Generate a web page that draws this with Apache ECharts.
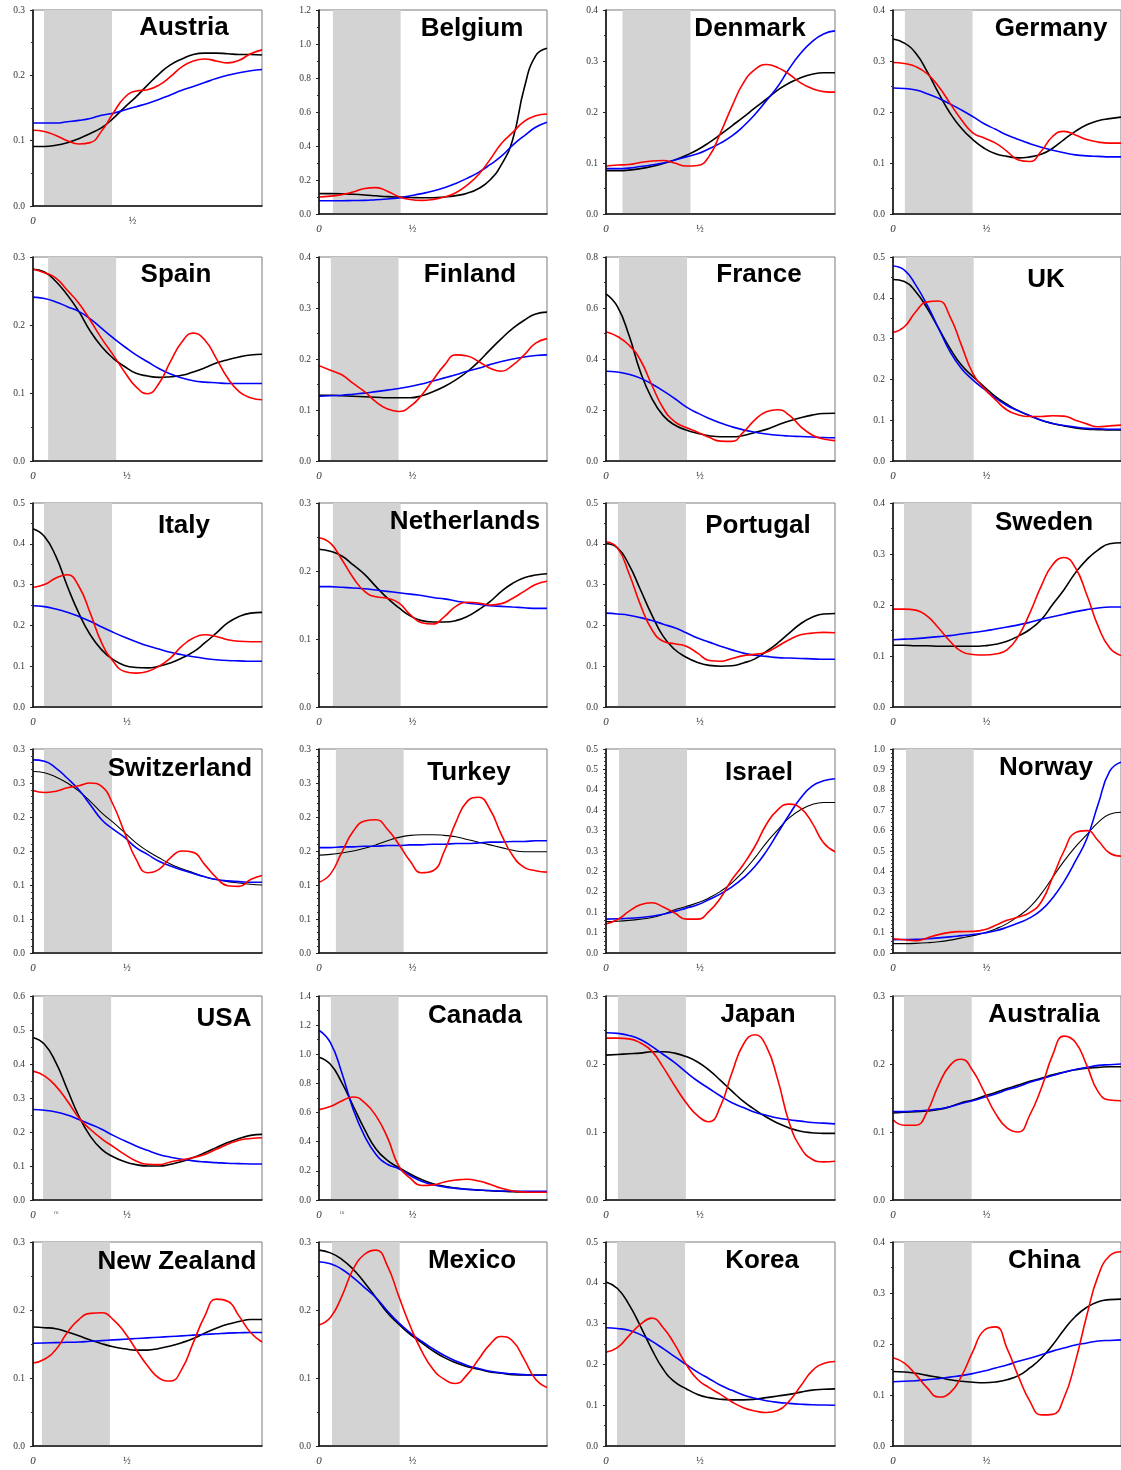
<!DOCTYPE html>
<html>
<head>
<meta charset="utf-8">
<title>Spectral densities by country</title>
<script src="https://cdn.jsdelivr.net/npm/echarts@6/dist/echarts.min.js"></script>
<style>
  html, body { margin: 0; padding: 0; background: #ffffff; }
  #chart { width: 1121px; height: 1470px; }
</style>
</head>
<body>
<div id="chart"></div>
<script>
// Sample frequencies shared by every curve (fraction of the plotted range)
const freq = [0, 0.05, 0.1, 0.15, 0.2, 0.25, 0.3, 0.35, 0.4, 0.45, 0.5, 0.55, 0.6, 0.65, 0.7, 0.75, 0.8, 0.85, 0.9, 0.95, 1];

const countries = ['Austria', 'Belgium', 'Denmark', 'Germany', 'Spain', 'Finland', 'France', 'UK',
  'Italy', 'Netherlands', 'Portugal', 'Sweden', 'Switzerland', 'Turkey', 'Israel', 'Norway',
  'USA', 'Canada', 'Japan', 'Australia', 'New Zealand', 'Mexico', 'Korea', 'China'];

// Y axis ranges and tick steps
const yMax  = [0.3, 1.2, 0.4, 0.4, 0.3, 0.4, 0.8, 0.5, 0.5, 0.3, 0.5, 0.4, 0.3, 0.3, 0.5, 1.0, 0.6, 1.4, 0.3, 0.3, 0.3, 0.3, 0.5, 0.4];
const yStep = [0.1, 0.2, 0.1, 0.1, 0.1, 0.1, 0.2, 0.1, 0.1, 0.1, 0.1, 0.1, 0.05, 0.05, 0.05, 0.1, 0.1, 0.2, 0.1, 0.1, 0.1, 0.1, 0.1, 0.1];

// Shaded frequency band (start of band, band width)
const bandStart = [0.048, 0.061, 0.072, 0.052, 0.066, 0.052, 0.057, 0.057, 0.048, 0.061, 0.052, 0.048,
  0.048, 0.074, 0.057, 0.057, 0.044, 0.052, 0.052, 0.048, 0.039, 0.057, 0.048, 0.048];
const bandWidth = 0.297;

// Austria
const austriaRed   = [0.116, 0.114, 0.108, 0.100, 0.095, 0.097, 0.115, 0.142, 0.166, 0.176, 0.178, 0.185, 0.198, 0.213, 0.222, 0.225, 0.222, 0.219, 0.223, 0.233, 0.239];
const austriaBlue  = [0.127, 0.127, 0.127, 0.129, 0.131, 0.134, 0.139, 0.142, 0.147, 0.152, 0.157, 0.163, 0.170, 0.177, 0.183, 0.189, 0.195, 0.200, 0.204, 0.207, 0.209];
const austriaBlack = [0.091, 0.091, 0.093, 0.097, 0.103, 0.111, 0.120, 0.134, 0.151, 0.167, 0.185, 0.202, 0.216, 0.225, 0.232, 0.234, 0.234, 0.233, 0.232, 0.232, 0.231];
// Belgium
const belgiumRed   = [0.100, 0.105, 0.114, 0.130, 0.150, 0.155, 0.134, 0.102, 0.085, 0.080, 0.086, 0.100, 0.125, 0.170, 0.232, 0.320, 0.415, 0.480, 0.545, 0.578, 0.588];
const belgiumBlue  = [0.078, 0.078, 0.078, 0.079, 0.080, 0.084, 0.088, 0.095, 0.107, 0.120, 0.135, 0.155, 0.180, 0.210, 0.245, 0.290, 0.340, 0.405, 0.460, 0.510, 0.540];
const belgiumBlack = [0.120, 0.120, 0.119, 0.116, 0.112, 0.107, 0.102, 0.099, 0.097, 0.096, 0.096, 0.100, 0.108, 0.122, 0.150, 0.200, 0.290, 0.440, 0.740, 0.930, 0.975];
// Denmark
const denmarkRed   = [0.094, 0.096, 0.097, 0.101, 0.104, 0.105, 0.100, 0.094, 0.095, 0.113, 0.159, 0.211, 0.257, 0.283, 0.293, 0.287, 0.274, 0.257, 0.246, 0.240, 0.239];
const denmarkBlue  = [0.089, 0.089, 0.090, 0.093, 0.096, 0.100, 0.106, 0.112, 0.118, 0.128, 0.139, 0.153, 0.172, 0.195, 0.222, 0.250, 0.285, 0.315, 0.338, 0.353, 0.359];
const denmarkBlack = [0.085, 0.085, 0.086, 0.089, 0.093, 0.099, 0.106, 0.115, 0.126, 0.140, 0.156, 0.173, 0.190, 0.208, 0.225, 0.243, 0.257, 0.267, 0.274, 0.277, 0.277];
// Germany
const germanyRed   = [0.297, 0.295, 0.289, 0.275, 0.250, 0.217, 0.185, 0.159, 0.149, 0.139, 0.123, 0.106, 0.103, 0.123, 0.152, 0.162, 0.155, 0.146, 0.141, 0.139, 0.139];
const germanyBlue  = [0.247, 0.246, 0.243, 0.236, 0.227, 0.216, 0.204, 0.191, 0.177, 0.166, 0.155, 0.146, 0.138, 0.131, 0.125, 0.120, 0.116, 0.114, 0.113, 0.112, 0.112];
const germanyBlack = [0.343, 0.335, 0.315, 0.279, 0.237, 0.198, 0.168, 0.146, 0.129, 0.118, 0.113, 0.110, 0.112, 0.117, 0.129, 0.146, 0.162, 0.175, 0.183, 0.187, 0.190];
// Spain
const spainRed   = [0.282, 0.277, 0.269, 0.251, 0.232, 0.207, 0.180, 0.156, 0.131, 0.109, 0.099, 0.114, 0.146, 0.175, 0.188, 0.178, 0.151, 0.122, 0.102, 0.093, 0.090];
const spainBlue  = [0.241, 0.239, 0.234, 0.227, 0.220, 0.209, 0.195, 0.181, 0.168, 0.156, 0.146, 0.136, 0.128, 0.122, 0.118, 0.116, 0.115, 0.114, 0.114, 0.114, 0.114];
const spainBlack = [0.282, 0.278, 0.264, 0.244, 0.220, 0.191, 0.168, 0.151, 0.139, 0.129, 0.125, 0.123, 0.124, 0.126, 0.131, 0.137, 0.144, 0.149, 0.153, 0.156, 0.157];
// Finland
const finlandRed   = [0.187, 0.178, 0.169, 0.152, 0.136, 0.116, 0.102, 0.097, 0.107, 0.129, 0.159, 0.188, 0.208, 0.206, 0.195, 0.182, 0.176, 0.188, 0.208, 0.231, 0.240];
const finlandBlue  = [0.127, 0.128, 0.129, 0.131, 0.133, 0.136, 0.139, 0.142, 0.146, 0.151, 0.157, 0.163, 0.169, 0.176, 0.182, 0.189, 0.195, 0.200, 0.204, 0.207, 0.208];
const finlandBlack = [0.129, 0.129, 0.128, 0.127, 0.126, 0.125, 0.124, 0.124, 0.124, 0.128, 0.136, 0.146, 0.159, 0.175, 0.195, 0.218, 0.240, 0.260, 0.276, 0.288, 0.292];
// France
const franceRed   = [0.507, 0.488, 0.455, 0.396, 0.298, 0.207, 0.154, 0.131, 0.113, 0.093, 0.078, 0.077, 0.113, 0.161, 0.193, 0.201, 0.180, 0.135, 0.102, 0.086, 0.080];
const franceBlue  = [0.352, 0.349, 0.340, 0.325, 0.302, 0.275, 0.245, 0.212, 0.188, 0.167, 0.149, 0.134, 0.122, 0.113, 0.106, 0.101, 0.098, 0.096, 0.094, 0.092, 0.091];
const franceBlack = [0.655, 0.605, 0.494, 0.350, 0.246, 0.178, 0.141, 0.122, 0.109, 0.099, 0.095, 0.095, 0.100, 0.112, 0.124, 0.141, 0.157, 0.170, 0.180, 0.186, 0.187];
// UK
const ukRed   = [0.315, 0.329, 0.366, 0.390, 0.392, 0.354, 0.284, 0.215, 0.178, 0.150, 0.125, 0.113, 0.109, 0.109, 0.111, 0.110, 0.100, 0.091, 0.084, 0.086, 0.088];
const ukBlue  = [0.478, 0.468, 0.431, 0.382, 0.325, 0.268, 0.227, 0.199, 0.176, 0.154, 0.136, 0.123, 0.111, 0.100, 0.092, 0.087, 0.083, 0.080, 0.079, 0.078, 0.078];
const ukBlack = [0.445, 0.440, 0.415, 0.374, 0.325, 0.276, 0.235, 0.207, 0.182, 0.158, 0.139, 0.123, 0.111, 0.100, 0.092, 0.086, 0.081, 0.078, 0.077, 0.076, 0.076];
// Italy
const italyRed   = [0.293, 0.300, 0.316, 0.324, 0.296, 0.230, 0.157, 0.112, 0.087, 0.083, 0.087, 0.100, 0.120, 0.149, 0.169, 0.177, 0.173, 0.165, 0.161, 0.160, 0.160];
const italyBlue  = [0.248, 0.246, 0.240, 0.232, 0.222, 0.210, 0.196, 0.183, 0.171, 0.160, 0.150, 0.142, 0.134, 0.128, 0.123, 0.119, 0.116, 0.114, 0.113, 0.112, 0.112];
const italyBlack = [0.437, 0.418, 0.369, 0.296, 0.230, 0.177, 0.140, 0.116, 0.102, 0.097, 0.096, 0.100, 0.108, 0.120, 0.135, 0.157, 0.181, 0.206, 0.222, 0.230, 0.232];
// Netherlands
const netherlandsRed   = [0.249, 0.241, 0.217, 0.190, 0.170, 0.162, 0.160, 0.153, 0.136, 0.124, 0.122, 0.133, 0.148, 0.154, 0.153, 0.150, 0.152, 0.160, 0.170, 0.180, 0.185];
const netherlandsBlue  = [0.177, 0.177, 0.176, 0.175, 0.174, 0.172, 0.170, 0.168, 0.166, 0.164, 0.161, 0.159, 0.156, 0.153, 0.151, 0.149, 0.148, 0.147, 0.146, 0.145, 0.145];
const netherlandsBlack = [0.232, 0.229, 0.222, 0.209, 0.195, 0.177, 0.160, 0.146, 0.134, 0.127, 0.125, 0.125, 0.127, 0.133, 0.143, 0.155, 0.170, 0.182, 0.190, 0.194, 0.196];
// Portugal
const portugalRed   = [0.405, 0.390, 0.328, 0.251, 0.190, 0.161, 0.155, 0.149, 0.132, 0.114, 0.112, 0.119, 0.126, 0.129, 0.134, 0.149, 0.165, 0.177, 0.181, 0.183, 0.182];
const portugalBlue  = [0.230, 0.228, 0.225, 0.219, 0.212, 0.203, 0.194, 0.182, 0.169, 0.159, 0.149, 0.140, 0.132, 0.127, 0.124, 0.121, 0.120, 0.119, 0.118, 0.117, 0.117];
const portugalBlack = [0.400, 0.390, 0.349, 0.288, 0.226, 0.173, 0.141, 0.122, 0.109, 0.102, 0.100, 0.101, 0.108, 0.118, 0.136, 0.157, 0.181, 0.204, 0.220, 0.228, 0.229];
// Sweden
const swedenRed   = [0.192, 0.192, 0.190, 0.178, 0.155, 0.129, 0.109, 0.103, 0.102, 0.104, 0.112, 0.139, 0.184, 0.237, 0.279, 0.293, 0.273, 0.220, 0.158, 0.116, 0.101];
const swedenBlue  = [0.132, 0.133, 0.134, 0.136, 0.138, 0.140, 0.143, 0.146, 0.149, 0.153, 0.157, 0.161, 0.166, 0.172, 0.177, 0.182, 0.187, 0.191, 0.194, 0.196, 0.196];
const swedenBlack = [0.121, 0.121, 0.120, 0.120, 0.119, 0.119, 0.119, 0.119, 0.120, 0.123, 0.129, 0.139, 0.152, 0.171, 0.201, 0.230, 0.263, 0.289, 0.308, 0.320, 0.322];
// Switzerland
const switzerlandRed   = [0.239, 0.236, 0.238, 0.243, 0.246, 0.250, 0.245, 0.218, 0.177, 0.138, 0.118, 0.123, 0.140, 0.150, 0.148, 0.130, 0.111, 0.099, 0.098, 0.108, 0.114];
const switzerlandBlue  = [0.284, 0.282, 0.272, 0.257, 0.240, 0.218, 0.196, 0.182, 0.170, 0.155, 0.145, 0.135, 0.128, 0.122, 0.117, 0.112, 0.108, 0.106, 0.105, 0.104, 0.104];
const switzerlandBlack = [0.267, 0.265, 0.259, 0.250, 0.238, 0.223, 0.206, 0.192, 0.177, 0.162, 0.150, 0.140, 0.131, 0.124, 0.118, 0.112, 0.108, 0.105, 0.103, 0.101, 0.100];
// Turkey
const turkeyRed   = [0.104, 0.116, 0.148, 0.179, 0.194, 0.196, 0.182, 0.160, 0.135, 0.118, 0.121, 0.150, 0.192, 0.223, 0.229, 0.211, 0.174, 0.143, 0.126, 0.121, 0.119];
const turkeyBlue  = [0.155, 0.155, 0.156, 0.156, 0.157, 0.157, 0.158, 0.158, 0.159, 0.159, 0.160, 0.160, 0.161, 0.161, 0.162, 0.163, 0.163, 0.164, 0.164, 0.165, 0.165];
const turkeyBlack = [0.144, 0.145, 0.147, 0.150, 0.154, 0.159, 0.165, 0.170, 0.173, 0.174, 0.174, 0.173, 0.171, 0.167, 0.163, 0.159, 0.155, 0.151, 0.149, 0.149, 0.149];
// Israel
const israelRed   = [0.071, 0.082, 0.102, 0.118, 0.123, 0.113, 0.098, 0.083, 0.083, 0.102, 0.135, 0.180, 0.217, 0.261, 0.315, 0.351, 0.365, 0.355, 0.319, 0.270, 0.248];
const israelBlue  = [0.083, 0.084, 0.085, 0.087, 0.090, 0.095, 0.102, 0.110, 0.118, 0.131, 0.145, 0.162, 0.184, 0.212, 0.249, 0.294, 0.339, 0.380, 0.409, 0.422, 0.427];
const israelBlack = [0.077, 0.078, 0.080, 0.083, 0.087, 0.095, 0.106, 0.114, 0.123, 0.135, 0.151, 0.172, 0.200, 0.233, 0.270, 0.302, 0.331, 0.351, 0.364, 0.369, 0.369];
// Norway
const norwayRed   = [0.070, 0.065, 0.060, 0.074, 0.090, 0.101, 0.105, 0.106, 0.114, 0.136, 0.160, 0.176, 0.198, 0.250, 0.370, 0.500, 0.590, 0.600, 0.550, 0.490, 0.475];
const norwayBlue  = [0.065, 0.066, 0.067, 0.070, 0.074, 0.079, 0.085, 0.091, 0.098, 0.109, 0.126, 0.147, 0.172, 0.210, 0.270, 0.350, 0.450, 0.560, 0.730, 0.890, 0.935];
const norwayBlack = [0.046, 0.046, 0.047, 0.050, 0.055, 0.063, 0.074, 0.085, 0.098, 0.118, 0.144, 0.180, 0.225, 0.290, 0.370, 0.450, 0.520, 0.580, 0.640, 0.680, 0.690];
// USA
const usaRed   = [0.379, 0.365, 0.335, 0.291, 0.242, 0.208, 0.180, 0.157, 0.134, 0.115, 0.105, 0.104, 0.112, 0.118, 0.125, 0.134, 0.149, 0.164, 0.176, 0.181, 0.183];
const usaBlue  = [0.266, 0.264, 0.259, 0.250, 0.237, 0.223, 0.208, 0.190, 0.174, 0.159, 0.146, 0.134, 0.126, 0.120, 0.115, 0.112, 0.110, 0.108, 0.107, 0.106, 0.106];
const usaBlack = [0.478, 0.458, 0.404, 0.325, 0.247, 0.188, 0.149, 0.127, 0.113, 0.104, 0.100, 0.100, 0.105, 0.113, 0.125, 0.139, 0.154, 0.169, 0.181, 0.190, 0.193];
// Canada
const canadaRed   = [0.620, 0.641, 0.680, 0.707, 0.668, 0.577, 0.430, 0.232, 0.150, 0.100, 0.104, 0.124, 0.137, 0.142, 0.130, 0.108, 0.080, 0.062, 0.055, 0.053, 0.053];
const canadaBlue  = [1.165, 1.080, 0.874, 0.622, 0.439, 0.313, 0.245, 0.215, 0.168, 0.128, 0.105, 0.090, 0.080, 0.073, 0.069, 0.065, 0.062, 0.061, 0.060, 0.060, 0.060];
const canadaBlack = [0.980, 0.931, 0.805, 0.645, 0.485, 0.350, 0.272, 0.222, 0.178, 0.140, 0.112, 0.094, 0.082, 0.074, 0.068, 0.063, 0.060, 0.057, 0.055, 0.055, 0.055];
// Japan
const japanRed   = [0.238, 0.238, 0.237, 0.231, 0.219, 0.195, 0.168, 0.143, 0.124, 0.115, 0.138, 0.187, 0.229, 0.243, 0.226, 0.177, 0.114, 0.077, 0.060, 0.056, 0.057];
const japanBlue  = [0.246, 0.245, 0.242, 0.236, 0.226, 0.214, 0.202, 0.188, 0.175, 0.164, 0.153, 0.143, 0.136, 0.129, 0.1245, 0.1205, 0.118, 0.116, 0.114, 0.113, 0.112];
const japanBlack = [0.213, 0.214, 0.215, 0.216, 0.218, 0.218, 0.216, 0.211, 0.203, 0.191, 0.176, 0.160, 0.145, 0.133, 0.122, 0.113, 0.106, 0.101, 0.099, 0.098, 0.098];
// Australia
const australiaRed   = [0.118, 0.110, 0.110, 0.130, 0.169, 0.198, 0.207, 0.190, 0.159, 0.127, 0.106, 0.100, 0.125, 0.164, 0.213, 0.241, 0.232, 0.198, 0.159, 0.147, 0.146];
const australiaBlue  = [0.130, 0.130, 0.131, 0.132, 0.134, 0.137, 0.142, 0.146, 0.151, 0.156, 0.162, 0.167, 0.173, 0.178, 0.183, 0.188, 0.192, 0.195, 0.198, 0.199, 0.200];
const australiaBlack = [0.128, 0.129, 0.130, 0.131, 0.133, 0.137, 0.143, 0.147, 0.153, 0.158, 0.164, 0.169, 0.1745, 0.179, 0.184, 0.188, 0.1915, 0.194, 0.195, 0.196, 0.196];
// New Zealand
const newZealandRed   = [0.122, 0.1275, 0.142, 0.167, 0.186, 0.195, 0.196, 0.186, 0.167, 0.142, 0.118, 0.100, 0.0955, 0.113, 0.152, 0.191, 0.216, 0.213, 0.191, 0.167, 0.153];
const newZealandBlue  = [0.151, 0.1515, 0.152, 0.1525, 0.153, 0.154, 0.155, 0.156, 0.157, 0.158, 0.159, 0.160, 0.161, 0.162, 0.163, 0.164, 0.165, 0.166, 0.1665, 0.167, 0.167];
const newZealandBlack = [0.175, 0.174, 0.1725, 0.1675, 0.162, 0.156, 0.1505, 0.146, 0.143, 0.141, 0.141, 0.1435, 0.147, 0.152, 0.158, 0.166, 0.173, 0.179, 0.183, 0.186, 0.186];
// Mexico
const mexicoRed   = [0.178, 0.189, 0.220, 0.260, 0.282, 0.288, 0.265, 0.220, 0.1765, 0.140, 0.113, 0.098, 0.092, 0.105, 0.1275, 0.1495, 0.161, 0.154, 0.1275, 0.098, 0.086];
const mexicoBlue  = [0.271, 0.268, 0.260, 0.2475, 0.233, 0.218, 0.1985, 0.181, 0.1665, 0.154, 0.143, 0.133, 0.125, 0.1185, 0.114, 0.110, 0.1075, 0.106, 0.105, 0.104, 0.104];
const mexicoBlack = [0.288, 0.284, 0.2745, 0.260, 0.240, 0.218, 0.196, 0.179, 0.164, 0.152, 0.140, 0.130, 0.1225, 0.1165, 0.113, 0.109, 0.107, 0.105, 0.1045, 0.1045, 0.1045];
// Korea
const koreaRed   = [0.230, 0.241, 0.270, 0.298, 0.3135, 0.290, 0.249, 0.200, 0.163, 0.143, 0.1265, 0.108, 0.094, 0.086, 0.082, 0.087, 0.110, 0.147, 0.184, 0.202, 0.207];
const koreaBlue  = [0.290, 0.288, 0.2835, 0.273, 0.257, 0.2385, 0.219, 0.200, 0.181, 0.165, 0.149, 0.1365, 0.125, 0.117, 0.111, 0.107, 0.1045, 0.1025, 0.101, 0.1005, 0.100];
const koreaBlack = [0.402, 0.386, 0.347, 0.294, 0.237, 0.188, 0.157, 0.1405, 0.1265, 0.1185, 0.1145, 0.113, 0.113, 0.1145, 0.1185, 0.1225, 0.1265, 0.132, 0.137, 0.139, 0.140];
// China
const chinaRed   = [0.173, 0.1625, 0.140, 0.114, 0.096, 0.104, 0.1365, 0.185, 0.227, 0.2335, 0.1915, 0.1365, 0.088, 0.061, 0.062, 0.0945, 0.1655, 0.256, 0.334, 0.373, 0.381];
const chinaBlue  = [0.126, 0.127, 0.128, 0.130, 0.132, 0.135, 0.138, 0.142, 0.147, 0.153, 0.159, 0.166, 0.172, 0.179, 0.186, 0.192, 0.198, 0.202, 0.206, 0.207, 0.208];
const chinaBlack = [0.146, 0.145, 0.1425, 0.1385, 0.1345, 0.130, 0.127, 0.125, 0.124, 0.1255, 0.130, 0.138, 0.153, 0.172, 0.198, 0.228, 0.254, 0.272, 0.283, 0.287, 0.288];

const redSets   = [austriaRed, belgiumRed, denmarkRed, germanyRed, spainRed, finlandRed, franceRed, ukRed,
  italyRed, netherlandsRed, portugalRed, swedenRed, switzerlandRed, turkeyRed, israelRed, norwayRed,
  usaRed, canadaRed, japanRed, australiaRed, newZealandRed, mexicoRed, koreaRed, chinaRed];
const blueSets  = [austriaBlue, belgiumBlue, denmarkBlue, germanyBlue, spainBlue, finlandBlue, franceBlue, ukBlue,
  italyBlue, netherlandsBlue, portugalBlue, swedenBlue, switzerlandBlue, turkeyBlue, israelBlue, norwayBlue,
  usaBlue, canadaBlue, japanBlue, australiaBlue, newZealandBlue, mexicoBlue, koreaBlue, chinaBlue];
const blackSets = [austriaBlack, belgiumBlack, denmarkBlack, germanyBlack, spainBlack, finlandBlack, franceBlack, ukBlack,
  italyBlack, netherlandsBlack, portugalBlack, swedenBlack, switzerlandBlack, turkeyBlack, israelBlack, norwayBlack,
  usaBlack, canadaBlack, japanBlack, australiaBlack, newZealandBlack, mexicoBlack, koreaBlack, chinaBlack];

// ---- layout ----
const colLeft = [33, 319, 606, 893];
const colWidth = [229, 228, 229, 228];
const rowTop = [10, 257, 503, 749, 996, 1242];
const plotH = 204;
// title centre offsets from the plot's top-left corner
const titleDX = [151, 153, 144, 158, 143, 151, 153, 153, 151, 146, 152, 151, 147, 150, 153, 153, 191, 156, 152, 151, 144, 153, 156, 151];
const titleDY = [16, 17, 17, 17, 16, 16, 16, 21, 21, 17, 21, 18, 18, 22, 22, 17, 21, 18, 17, 17, 18, 17, 17, 17];
const denseTicks = ['Switzerland', 'Turkey', 'Israel', 'Norway'];
const smallMark = ['USA', 'Canada'];

const serif = '"Liberation Serif", "DejaVu Serif", serif';
const grids = [], xAxes = [], yAxes = [], series = [], titles = [];

countries.forEach((name, i) => {
  const r = Math.floor(i / 4), c = i % 4;
  const left = colLeft[c], top = rowTop[r];
  const height = name === 'Austria' ? 196 : plotH;
  const dense = denseTicks.includes(name);
  const halfAt = name === 'Austria' ? 0.435 : 0.41;

  grids.push({
    left: left, top: top, width: colWidth[c], height: height,
    show: true, borderColor: '#7a7a7a', borderWidth: 1, backgroundColor: 'transparent'
  });

  const labelValues = smallMark.includes(name) ? [0, 0.1, halfAt] : [0, halfAt];
  xAxes.push({
    gridIndex: i, type: 'value', min: 0, max: 1, z: 5,
    axisLine: { show: true, lineStyle: { color: '#111', width: 1.6 } },
    axisTick: { show: false },
    splitLine: { show: false },
    axisLabel: {
      customValues: labelValues,
      margin: 10,
      formatter: v => v === 0 ? '{z|0}' : (v < 0.2 ? '{s|16}' : '{h|\u00BD}'),
      rich: {
        z: { fontFamily: serif, fontStyle: 'italic', fontSize: 11, color: '#333' },
        h: { fontFamily: serif, fontSize: 10, color: '#333' },
        s: { fontFamily: serif, fontStyle: 'italic', fontSize: 5, color: '#555' }
      }
    }
  });

  yAxes.push({
    gridIndex: i, type: 'value', min: 0, max: yMax[i], interval: yStep[i], z: 5,
    axisLine: { show: true, lineStyle: { color: '#111', width: 1.6 } },
    axisTick: { show: true, length: 3, lineStyle: { color: '#222', width: 1 } },
    minorTick: { show: true, splitNumber: dense ? 5 : 2, length: 2, lineStyle: { color: '#333', width: 1 } },
    splitLine: { show: false },
    minorSplitLine: { show: false },
    axisLabel: {
      fontFamily: serif, fontSize: 9.5, color: '#333', margin: 8,
      formatter: v => (Math.round(v * 10 + 1e-9) / 10).toFixed(1)
    }
  });

  // shaded frequency band
  series.push({
    type: 'line', xAxisIndex: i, yAxisIndex: i, data: [], z: 1, silent: true,
    markArea: {
      silent: true,
      itemStyle: { color: '#d3d3d3' },
      data: [[{ xAxis: bandStart[i] }, { xAxis: bandStart[i] + bandWidth }]]
    }
  });

  const mk = (vals, color, width) => ({
    type: 'line', xAxisIndex: i, yAxisIndex: i, z: 3,
    data: freq.map((f, j) => [f, vals[j]]),
    smooth: 0.5, showSymbol: false, symbol: 'none', silent: true,
    lineStyle: { color: color, width: width }
  });
  series.push(mk(blackSets[i], '#000000', dense ? 1.1 : 1.6));
  series.push(mk(blueSets[i], '#0000ff', 1.6));
  series.push(mk(redSets[i], '#ff0000', 1.6));

  titles.push({
    text: name,
    left: left + titleDX[i],
    top: top + titleDY[i] - 11,
    textAlign: 'center',
    padding: 0,
    textStyle: { fontFamily: '"Liberation Sans", Arial, sans-serif', fontWeight: 'bold', fontSize: 26, color: '#000' }
  });
});

const chart = echarts.init(document.getElementById('chart'), null, { renderer: 'canvas' });
chart.setOption({
  animation: false,
  backgroundColor: '#ffffff',
  title: titles,
  grid: grids,
  xAxis: xAxes,
  yAxis: yAxes,
  series: series
});
</script>
</body>
</html>
